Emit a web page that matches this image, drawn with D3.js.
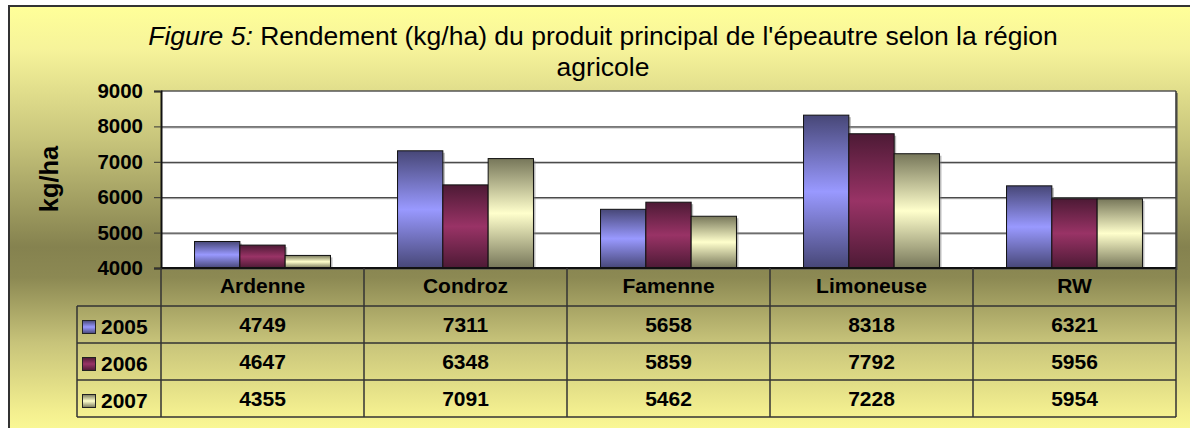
<!DOCTYPE html>
<html>
<head>
<meta charset="utf-8">
<script src="https://cdn.jsdelivr.net/npm/d3@7"></script>
<style>
  body { margin: 0; background: #fff; }
  svg text { font-family: "Liberation Sans", Arial, sans-serif; }
</style>
</head>
<body>
<script>
let regions = ["Ardenne", "Condroz", "Famenne", "Limoneuse", "RW"];
let years = ["2005", "2006", "2007"];
let v2005 = [4749, 7311, 5658, 8318, 6321];
let v2006 = [4647, 6348, 5859, 7792, 5956];
let v2007 = [4355, 7091, 5462, 7228, 5954];
let yTicks = [4000, 5000, 6000, 7000, 8000, 9000];

let series = [v2005, v2006, v2007];
let darkCol = ["#474777", "#4d1a35", "#77775a"];
let lightCol = ["#9999ff", "#993366", "#ffffcc"];

let w = 1190, h = 428;
let pLeft = 161, pRight = 1176, pTop = 91, pBottom = 268;
let rowH = 37;

let svg = d3.select("body").append("svg")
  .attr("width", w).attr("height", h);

let defs = svg.append("defs");

let bg = defs.append("linearGradient").attr("id", "bg")
  .attr("x1", 0).attr("y1", 0).attr("x2", 0).attr("y2", 1);
[[0, "#ffff99"], [0.1, "#f6f39a"], [0.3, "#c9c67c"], [0.55, "#85824f"],
 [0.62, "#8c8953"], [0.77, "#c8c47a"], [0.93, "#f4f090"], [1, "#ffff99"]]
  .forEach(s => bg.append("stop").attr("offset", s[0]).attr("stop-color", s[1]));

years.forEach((yr, i) => {
  let g = defs.append("linearGradient").attr("id", "bar" + i)
    .attr("x1", 0).attr("y1", 0).attr("x2", 0).attr("y2", 1);
  g.append("stop").attr("offset", 0).attr("stop-color", darkCol[i]);
  g.append("stop").attr("offset", 0.5).attr("stop-color", lightCol[i]);
  g.append("stop").attr("offset", 1).attr("stop-color", darkCol[i]);
});

// frame
svg.append("rect")
  .attr("x", 9).attr("y", 6).attr("width", w + 10).attr("height", h + 10)
  .attr("fill", "url(#bg)").attr("stroke", "#333").attr("stroke-width", 2);

// title
let title = svg.append("text").attr("x", 603).attr("y", 45)
  .attr("text-anchor", "middle").style("font-size", "26.5px");
title.append("tspan").style("font-style", "italic").text("Figure 5:");
title.append("tspan").text(" Rendement (kg/ha) du produit principal de l'épeautre selon la région");
svg.append("text").attr("x", 603).attr("y", 76)
  .attr("text-anchor", "middle").style("font-size", "26.5px").text("agricole");

let x = d3.scaleBand().domain(regions).range([pLeft, pRight]);
let xs = d3.scaleBand().domain(years).range([0, x.bandwidth()]).paddingOuter(0.74);
let y = d3.scaleLinear().domain([4000, 9000]).range([pBottom, pTop]);

// plot area with shadow
svg.append("rect")
  .attr("x", pLeft + 2).attr("y", pTop + 2).attr("width", pRight - pLeft).attr("height", pBottom - pTop)
  .attr("fill", "#555").attr("opacity", 0.6);
svg.append("rect")
  .attr("x", pLeft).attr("y", pTop).attr("width", pRight - pLeft).attr("height", pBottom - pTop)
  .attr("fill", "#fff");

// gridlines
svg.append("g").selectAll("line")
  .data(yTicks.slice(1, -1)).enter().append("line")
  .attr("x1", pLeft).attr("x2", pRight)
  .attr("y1", d => y(d) + 1.5).attr("y2", d => y(d) + 1.5)
  .attr("stroke", "#aaa").attr("stroke-width", 1);
svg.append("g").selectAll("line")
  .data(yTicks.slice(1, -1)).enter().append("line")
  .attr("x1", pLeft).attr("x2", pRight)
  .attr("y1", d => y(d) + 0.5).attr("y2", d => y(d) + 0.5)
  .attr("stroke", "#222").attr("stroke-width", 1);

// bars
series.forEach((vals, i) => {
  svg.append("g").selectAll("rect").data(vals).enter().append("rect")
    .attr("x", (d, j) => x(regions[j]) + xs(years[i]) + 2)
    .attr("y", d => y(d) + 2)
    .attr("width", xs.bandwidth())
    .attr("height", d => pBottom - y(d) - 2)
    .attr("fill", "#777").attr("opacity", 0.5);
});
series.forEach((vals, i) => {
  svg.append("g").selectAll("rect").data(vals).enter().append("rect")
    .attr("x", (d, j) => x(regions[j]) + xs(years[i]))
    .attr("y", d => y(d))
    .attr("width", xs.bandwidth())
    .attr("height", d => pBottom - y(d))
    .attr("fill", "url(#bar" + i + ")")
    .attr("stroke", "#111").attr("stroke-width", 1);
});

// plot border
svg.append("line").attr("x1", pLeft).attr("x2", pRight).attr("y1", pTop).attr("y2", pTop)
  .attr("stroke", "#555").attr("stroke-width", 1.5);
svg.append("line").attr("x1", pRight).attr("x2", pRight).attr("y1", pTop).attr("y2", pBottom)
  .attr("stroke", "#333").attr("stroke-width", 1.5);

// y axis
let yAxis = d3.axisLeft(y).tickValues(yTicks).tickFormat(d3.format("d")).tickSize(7).tickPadding(11);
let ya = svg.append("g").attr("transform", "translate(" + pLeft + ",0)").call(yAxis);
ya.select(".domain").attr("stroke", "#111").attr("stroke-width", 2);
ya.selectAll(".tick line").attr("stroke", "#333");
ya.selectAll("text").style("font-size", "20.5px").style("font-weight", "bold")
  .style("font-family", "Liberation Sans, Arial, sans-serif").attr("fill", "#000");

svg.append("text")
  .attr("transform", "translate(58,179) rotate(-90)")
  .attr("text-anchor", "middle")
  .style("font-size", "25.5px").style("font-weight", "bold").text("kg/ha");

// data table
let tLeft = 77;
let tbl = svg.append("g").attr("stroke", "#333").attr("stroke-width", 1.5).attr("fill", "none");
tbl.append("line").attr("x1", pLeft).attr("x2", pRight).attr("y1", pBottom).attr("y2", pBottom)
  .attr("stroke", "#111").attr("stroke-width", 2);
[1, 2, 3, 4].forEach(k => {
  tbl.append("line").attr("x1", tLeft).attr("x2", pRight)
    .attr("y1", pBottom + 1 + k * rowH).attr("y2", pBottom + 1 + k * rowH);
});
tbl.append("line").attr("x1", tLeft).attr("x2", tLeft)
  .attr("y1", pBottom + 1 + rowH).attr("y2", pBottom + 1 + 4 * rowH);
regions.forEach(r => {
  tbl.append("line").attr("x1", x(r)).attr("x2", x(r))
    .attr("y1", pBottom).attr("y2", pBottom + 1 + 4 * rowH);
});
tbl.append("line").attr("x1", pRight).attr("x2", pRight)
  .attr("y1", pBottom).attr("y2", pBottom + 1 + 4 * rowH);

// header labels
svg.append("g").selectAll("text").data(regions).enter().append("text")
  .attr("x", d => x(d) + x.bandwidth() / 2)
  .attr("y", pBottom + 25)
  .attr("text-anchor", "middle")
  .style("font-size", "21px").style("font-weight", "bold").text(d => d);

// rows
series.forEach((vals, i) => {
  let ry = pBottom + 1 + (i + 1) * rowH;
  svg.append("rect")
    .attr("x", 82.5).attr("y", ry + 14.5).attr("width", 13).attr("height", 13)
    .attr("fill", "url(#bar" + i + ")").attr("stroke", "#222").attr("stroke-width", 1);
  svg.append("text").attr("x", 101).attr("y", ry + 28)
    .style("font-size", "21px").style("font-weight", "bold").text(years[i]);
  svg.append("g").selectAll("text").data(vals).enter().append("text")
    .attr("x", (d, j) => x(regions[j]) + x.bandwidth() / 2)
    .attr("y", ry + 26)
    .attr("text-anchor", "middle")
    .style("font-size", "21px").style("font-weight", "bold").text(d => d);
});
</script>
</body>
</html>
